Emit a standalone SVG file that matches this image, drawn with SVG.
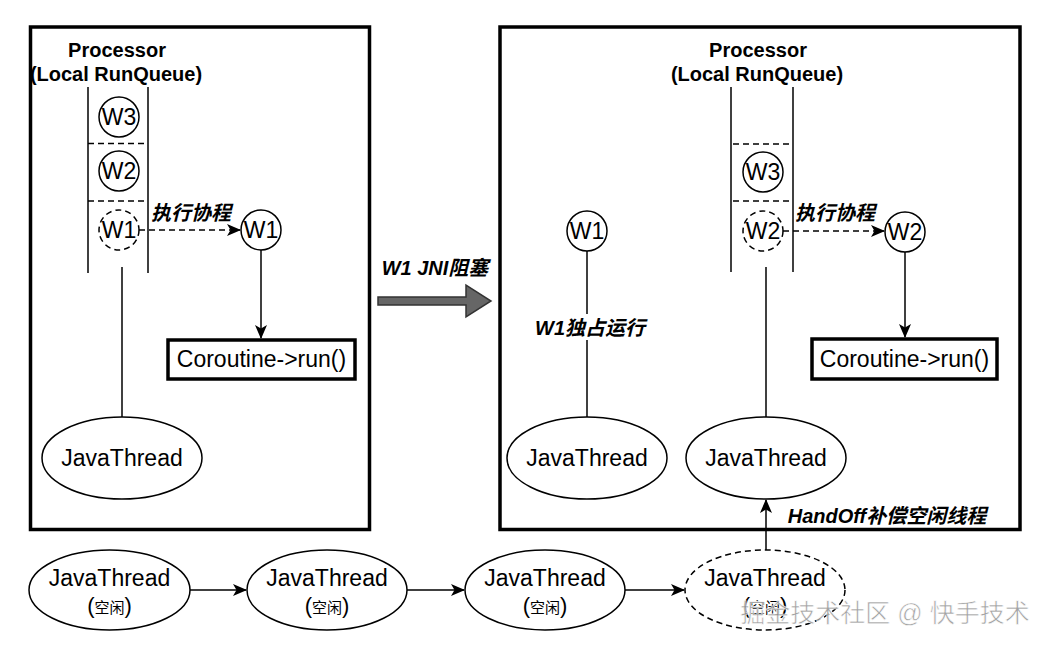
<svg xmlns="http://www.w3.org/2000/svg" width="1048" height="648" viewBox="0 0 1048 648">
<style>
.t{font-family:"Liberation Sans","Noto Sans CJK SC",sans-serif;fill:#000;text-anchor:middle}
.big{font-size:23px}
.w{font-size:23px}
.hd{font-size:20px;font-weight:bold}
.lb{font-size:20px;font-weight:bold;font-style:italic}
.box{fill:#fff;stroke:#000;stroke-width:3.5}
.ln{fill:none;stroke:#000;stroke-width:1.5}
.dl{fill:none;stroke:#000;stroke-width:1.5;stroke-dasharray:6 4}
.nd{fill:#fff;stroke:#000;stroke-width:1.5}
.ndd{fill:#fff;stroke:#000;stroke-width:1.5;stroke-dasharray:6 4}
</style>
<defs>
<marker id="ah" viewBox="0 0 14 12" refX="13" refY="6" markerWidth="14" markerHeight="12" markerUnits="userSpaceOnUse" orient="auto">
<path d="M0,0 L14,6 L0,12 L3.5,6 Z" fill="#000"/>
</marker>
</defs>
<rect width="1048" height="648" fill="#fff"/>

<g id="left-processor">
<rect class="box" x="30.5" y="27" width="339" height="502.5"/>
<text class="t hd" x="117" y="57">Processor</text>
<text class="t hd" x="116" y="81">(Local RunQueue)</text>
</g>
<g id="right-processor">
<rect class="box" x="500" y="27" width="520" height="502.5"/>
<text class="t hd" x="758" y="57">Processor</text>
<text class="t hd" x="757" y="81">(Local RunQueue)</text>
</g>

<g id="left-queue">
<line class="ln" x1="88" y1="87" x2="88" y2="273"/>
<line class="ln" x1="148" y1="87" x2="148" y2="273"/>
<line class="dl" x1="88" y1="143.5" x2="146" y2="143.5"/>
<line class="dl" x1="88" y1="201" x2="146" y2="201"/>
</g>
<g id="right-queue">
<line class="ln" x1="731" y1="87" x2="731" y2="272"/>
<line class="ln" x1="793" y1="87" x2="793" y2="272"/>
<line class="dl" x1="733" y1="144" x2="791" y2="144"/>
<line class="dl" x1="733" y1="201" x2="791" y2="201"/>
</g>

<g id="connectors">
<line class="dl" x1="139" y1="230" x2="240" y2="230" marker-end="url(#ah)"/>
<line class="ln" x1="261" y1="250" x2="261" y2="338" marker-end="url(#ah)"/>
<line class="ln" x1="122" y1="267" x2="122" y2="417"/>
<line class="dl" x1="783" y1="231" x2="884" y2="231" marker-end="url(#ah)"/>
<line class="ln" x1="905" y1="252" x2="905" y2="337" marker-end="url(#ah)"/>
<line class="ln" x1="587" y1="251" x2="587" y2="417"/>
<line class="ln" x1="766" y1="267" x2="766" y2="417"/>
<line class="ln" x1="766" y1="550" x2="766" y2="500" marker-end="url(#ah)"/>
<line class="ln" x1="190" y1="590" x2="246" y2="590" marker-end="url(#ah)"/>
<line class="ln" x1="407" y1="590" x2="464" y2="590" marker-end="url(#ah)"/>
<line class="ln" x1="625" y1="590" x2="684" y2="590" marker-end="url(#ah)"/>
<polygon points="378,297 466,297 466,285 491,301 466,317 466,305 378,305" fill="#666" stroke="#333" stroke-width="1.5"/>
<text class="t lb" x="435" y="275">W1 JNI阻塞</text>
<text class="t lb" x="191" y="220">执行协程</text>
<text class="t lb" x="835" y="220">执行协程</text>
<rect x="528" y="314" width="124" height="26" fill="#fff"/>
<text class="t lb" x="590" y="335">W1独占运行</text>
<text class="t lb" x="887" y="523">HandOff补偿空闲线程</text>
</g>

<g id="l-w3"><circle class="nd" cx="119" cy="117" r="20"/><text class="t w" x="119" y="125">W3</text></g>
<g id="l-w2"><circle class="nd" cx="119" cy="171" r="20"/><text class="t w" x="119" y="179">W2</text></g>
<g id="l-w1q"><circle class="ndd" cx="119" cy="230" r="20"/><text class="t w" x="119" y="238">W1</text></g>
<g id="l-w1"><circle class="nd" cx="261" cy="230" r="20"/><text class="t w" x="261" y="238">W1</text></g>
<g id="l-run"><rect class="box" x="168" y="340" width="187" height="39"/><text class="t big" x="261.5" y="367">Coroutine-&gt;run()</text></g>
<g id="l-jt"><ellipse class="nd" cx="122" cy="458" rx="80" ry="41"/><text class="t big" x="122" y="466">JavaThread</text></g>

<g id="r-w3"><circle class="nd" cx="763" cy="172" r="20"/><text class="t w" x="763" y="180">W3</text></g>
<g id="r-w2q"><circle class="ndd" cx="763" cy="231" r="20"/><text class="t w" x="763" y="239">W2</text></g>
<g id="r-w2"><circle class="nd" cx="905" cy="232" r="20"/><text class="t w" x="905" y="240">W2</text></g>
<g id="r-w1"><circle class="nd" cx="587" cy="231" r="20"/><text class="t w" x="587" y="239">W1</text></g>
<g id="r-run"><rect class="box" x="812" y="339" width="185" height="40"/><text class="t big" x="904.5" y="367">Coroutine-&gt;run()</text></g>
<g id="r-jt1"><ellipse class="nd" cx="587" cy="458" rx="80" ry="41"/><text class="t big" x="587" y="466">JavaThread</text></g>
<g id="r-jt2"><ellipse class="nd" cx="766" cy="458" rx="80" ry="41"/><text class="t big" x="766" y="466">JavaThread</text></g>

<g id="b-jt1"><ellipse class="nd" cx="109.5" cy="590" rx="80.5" ry="40"/><text class="t big" x="109.5" y="586">JavaThread</text><text class="t" x="109.5" y="613" font-size="22">(<tspan font-size="15">空闲</tspan>)</text></g>
<g id="b-jt2"><ellipse class="nd" cx="327" cy="590" rx="80" ry="40"/><text class="t big" x="327" y="586">JavaThread</text><text class="t" x="327" y="613" font-size="22">(<tspan font-size="15">空闲</tspan>)</text></g>
<g id="b-jt3"><ellipse class="nd" cx="545" cy="590" rx="80" ry="40"/><text class="t big" x="545" y="586">JavaThread</text><text class="t" x="545" y="613" font-size="22">(<tspan font-size="15">空闲</tspan>)</text></g>
<g id="b-jt4"><ellipse class="ndd" cx="765" cy="590" rx="80" ry="40"/><text class="t big" x="765" y="586">JavaThread</text><text class="t" x="765" y="613" font-size="22">(<tspan font-size="15">空闲</tspan>)</text></g>

<text class="t" x="885" y="622" font-size="25" style="fill:#999" stroke="#fff" stroke-width="0.6" opacity="0.9">掘金技术社区 @ 快手技术</text>
</svg>
